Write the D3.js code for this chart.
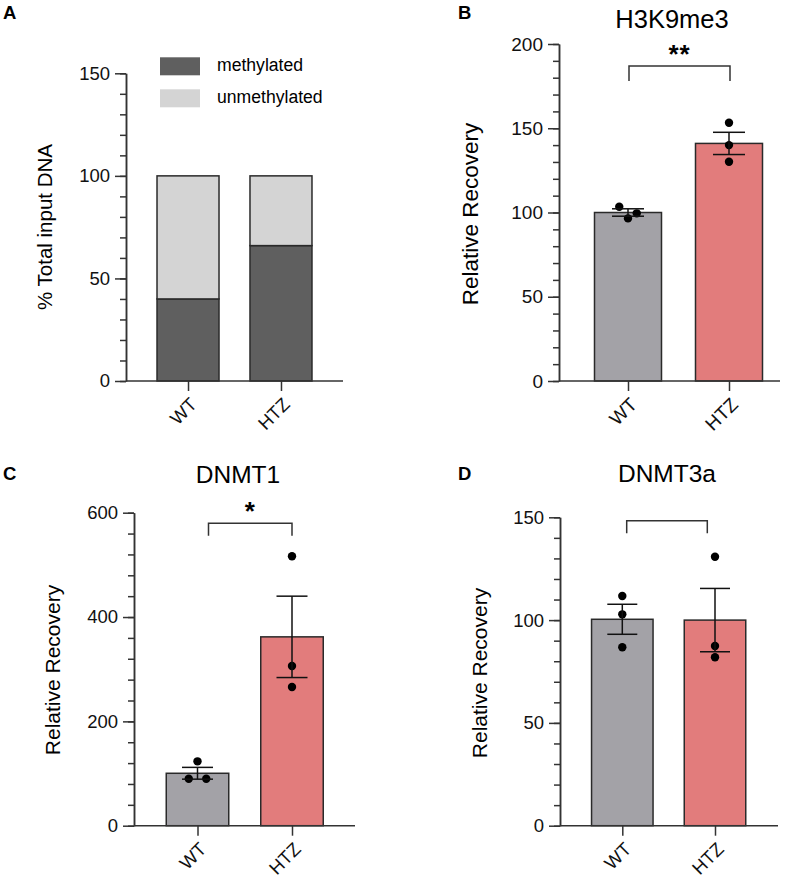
<!DOCTYPE html>
<html>
<head>
<meta charset="utf-8">
<script src="https://cdn.jsdelivr.net/npm/d3@7"></script>
<style>
  body { margin: 0; background: #fff; }
  svg { font-family: "Liberation Sans", Arial, Helvetica, sans-serif; }
  .axis path, .axis line { stroke: #333; stroke-width: 1.5; }
  .axis text { fill: #111; }
</style>
</head>
<body>
<svg id="figure" width="800" height="879"></svg>
<script>
// groups on the x axis of every panel
var groups = ["WT", "HTZ"];

// panel A : % of input DNA (stacked)
var methylated = [40, 66];
var unmethylated = [60, 34];
var stackKeys = ["methylated", "unmethylated"];

// panel B : H3K9me3
var h3k9Mean = [100, 141];
var h3k9Sem = [2.2, 6.6];
var h3k9Points = [[103.4, 96.5, 99.5], [153.3, 140, 130.1]];

// panel C : DNMT1
var dnmt1Mean = [100.5, 362];
var dnmt1Sem = [11.3, 78];
var dnmt1Points = [[123.4, 90.1, 90.0], [516.4, 306, 265.8]];

// panel D : DNMT3a
var dnmt3aMean = [100.4, 100];
var dnmt3aSem = [7.3, 15.4];
var dnmt3aPoints = [[111.7, 102.8, 86.8], [130.8, 87.4, 81.9]];

// significance labels and bracket levels (data units)
var sigLabels = ["**", "*", ""];
var sigLevels = [187, 580, 148.3];
var sigDrops = [178, 556, 142.2];

var groupColors = ["#a3a2a7", "#e27c7c"];
var stackColors = ["#5f5f5f", "#d4d4d4"];

var svg = d3.select("#figure");

/*
 * draws the y axis with major (labelled) and minor ticks
 */
function drawYAxis(g, yScale, x0, majorStep, minorStep, max, fontSize) {
   var minor = d3.range(0, max + 0.001, minorStep);
   var major = d3.range(0, max + 0.001, majorStep);

   g.append("g")
      .attr("class", "axis")
      .attr("transform", "translate(" + x0 + ",0)")
      .call(d3.axisLeft(yScale).tickValues(minor).tickSize(6).tickFormat("").tickSizeOuter(0));

   g.append("g")
      .attr("class", "axis")
      .attr("transform", "translate(" + x0 + ",0)")
      .call(d3.axisLeft(yScale).tickValues(major).tickSize(11).tickPadding(5).tickSizeOuter(0))
      .selectAll("text")
      .attr("font-size", fontSize);
}

/*
 * draws the x axis line plus rotated group labels
 */
function drawXAxis(g, xScale, x0, x1, y0, fontSize) {
   var ax = g.append("g")
      .attr("class", "axis")
      .attr("transform", "translate(0," + y0 + ")")
      .call(d3.axisBottom(xScale).tickSize(10).tickSizeOuter(0));
   ax.select(".domain").remove();
   ax.append("line")
      .attr("x1", x0).attr("x2", x1)
      .attr("y1", 0).attr("y2", 0)
      .attr("stroke", "#333").attr("stroke-width", 1.5);
   ax.selectAll(".tick text")
      .attr("font-size", fontSize)
      .attr("text-anchor", "end")
      .attr("x", 0).attr("y", 0).attr("dy", "0.35em")
      .attr("transform", "translate(5,20) rotate(-45)");
}

/*
 * spread points horizontally when they would overlap
 */
function spreadPoints(values, yScale, r, step) {
   var order = values.map(function(v, i) { return i; })
      .sort(function(a, b) { return values[b] - values[a]; });
   var rows = [];
   order.forEach(function(i) {
      var last = rows[rows.length - 1];
      if (last && Math.abs(yScale(values[last[0]]) - yScale(values[i])) < 2 * r + 1) {
         last.push(i);
      } else {
         rows.push([i]);
      }
   });
   var offsets = [];
   rows.forEach(function(row) {
      row.forEach(function(i, k) {
         offsets[i] = (k - (row.length - 1) / 2) * step;
      });
   });
   return values.map(function(v, i) { return { v: v, dx: offsets[i] }; });
}

function panelLetter(txt, x, y) {
   svg.append("text")
      .attr("x", x).attr("y", y)
      .attr("font-size", 18.5)
      .attr("font-weight", "bold")
      .text(txt);
}

function yTitle(txt, cx, cy, fontSize) {
   svg.append("text")
      .attr("transform", "translate(" + cx + "," + cy + ") rotate(-90)")
      .attr("text-anchor", "middle")
      .attr("dominant-baseline", "central")
      .attr("font-size", fontSize)
      .text(txt);
}

/*
 * mean + SEM bar panel with individual points
 */
function barPanel(cfg) {
   var g = svg.append("g");
   var yScale = d3.scaleLinear().domain([0, cfg.max]).range([cfg.y0, cfg.yTop]);
   var xScale = d3.scalePoint().domain(groups).range(cfg.centers);

   drawYAxis(g, yScale, cfg.x0, cfg.major, cfg.minor, cfg.max, cfg.tickFont);

   // bars
   g.selectAll("rect.bar")
      .data(groups)
      .enter().append("rect")
      .attr("class", "bar")
      .attr("x", function(d) { return xScale(d) - cfg.barW / 2; })
      .attr("y", function(d, i) { return yScale(cfg.mean[i]); })
      .attr("width", cfg.barW)
      .attr("height", function(d, i) { return cfg.y0 - yScale(cfg.mean[i]); })
      .attr("fill", function(d, i) { return groupColors[i]; })
      .attr("stroke", "#2a2a2a")
      .attr("stroke-width", 1.5);

   drawXAxis(g, xScale, cfg.x0, cfg.x1, cfg.y0, cfg.tickFont);

   // points
   groups.forEach(function(grp, i) {
      var pts = spreadPoints(cfg.points[i], yScale, 4.2, 17.5);
      g.selectAll(null)
         .data(pts)
         .enter().append("circle")
         .attr("cx", function(d) { return xScale(grp) + d.dx; })
         .attr("cy", function(d) { return yScale(d.v); })
         .attr("r", 4.2)
         .attr("fill", "#000");
   });

   // error bars (mean +/- SEM)
   groups.forEach(function(grp, i) {
      var cx = xScale(grp);
      var top = yScale(cfg.mean[i] + cfg.sem[i]);
      var bot = yScale(cfg.mean[i] - cfg.sem[i]);
      var eb = g.append("g").attr("stroke", "#111").attr("stroke-width", 1.5);
      eb.append("line").attr("x1", cx).attr("x2", cx).attr("y1", top).attr("y2", bot);
      eb.append("line").attr("x1", cx - cfg.capW).attr("x2", cx + cfg.capW).attr("y1", top).attr("y2", top);
      eb.append("line").attr("x1", cx - cfg.capW).attr("x2", cx + cfg.capW).attr("y1", bot).attr("y2", bot);
   });

   // significance bracket
   var bx1 = xScale(groups[0]) + cfg.bracketInset[0];
   var bx2 = xScale(groups[1]) + cfg.bracketInset[1];
   var by = yScale(cfg.sigLevel);
   var bd = yScale(cfg.sigDrop);
   g.append("path")
      .attr("d", "M" + bx1 + "," + bd + "V" + by + "H" + bx2 + "V" + bd)
      .attr("fill", "none")
      .attr("stroke", "#333")
      .attr("stroke-width", 1.5);
   if (cfg.sig) {
      g.append("text")
         .attr("x", (bx1 + bx2) / 2)
         .attr("y", by - 3)
         .attr("text-anchor", "middle")
         .attr("font-size", 26)
         .attr("font-weight", "bold")
         .attr("letter-spacing", 1)
         .text(cfg.sig);
   }

   // title
   svg.append("text")
      .attr("x", cfg.titleX).attr("y", cfg.titleY)
      .attr("text-anchor", "middle")
      .attr("font-size", cfg.titleFont)
      .text(cfg.title);

   yTitle("Relative Recovery", cfg.labelX, cfg.labelY, cfg.labelFont);
   panelLetter(cfg.letter, cfg.letterX, cfg.letterY);
}

/* ---------- panel A : stacked bars ---------- */
(function() {
   var x0 = 126, x1 = 343, y0 = 381, yTop = 73.3, barW = 62;
   var g = svg.append("g");
   var yScale = d3.scaleLinear().domain([0, 150]).range([y0, yTop]);
   var xScale = d3.scalePoint().domain(groups).range([x0, x1]).padding(0.667);

   drawYAxis(g, yScale, x0, 50, 10, 150, 18.5);

   var table = groups.map(function(grp, i) {
      return { group: grp, methylated: methylated[i], unmethylated: unmethylated[i] };
   });
   var series = d3.stack().keys(stackKeys)(table);

   g.selectAll("g.layer")
      .data(series)
      .enter().append("g")
      .attr("class", "layer")
      .attr("fill", function(d, i) { return stackColors[i]; })
      .selectAll("rect")
      .data(function(d) { return d; })
      .enter().append("rect")
      .attr("x", function(d) { return xScale(d.data.group) - barW / 2; })
      .attr("y", function(d) { return yScale(d[1]); })
      .attr("width", barW)
      .attr("height", function(d) { return yScale(d[0]) - yScale(d[1]); })
      .attr("stroke", "#2a2a2a")
      .attr("stroke-width", 1.5);

   drawXAxis(g, xScale, x0, x1, y0, 18.5);

   // legend
   var leg = g.selectAll("g.leg")
      .data(stackKeys)
      .enter().append("g")
      .attr("class", "leg")
      .attr("transform", function(d, i) { return "translate(160," + (57.3 + i * 32) + ")"; });
   leg.append("rect")
      .attr("width", 40).attr("height", 18)
      .attr("fill", function(d, i) { return stackColors[i]; });
   leg.append("text")
      .attr("x", 57).attr("y", 14)
      .attr("font-size", 17.6)
      .text(function(d) { return d; });

   yTitle("% Total input DNA", 44.7, 227, 20.5);
   panelLetter("A", 3, 19);
})();

/* ---------- panels B, C, D ---------- */
barPanel({
   letter: "B", letterX: 458, letterY: 19,
   title: "H3K9me3", titleX: 672, titleY: 28, titleFont: 25.5,
   x0: 559, x1: 780, y0: 381, yTop: 44, max: 200, major: 50, minor: 10,
   centers: [628, 729], barW: 67, capW: 16,
   mean: h3k9Mean, sem: h3k9Sem, points: h3k9Points,
   sig: sigLabels[0], sigLevel: sigLevels[0], sigDrop: sigDrops[0], bracketInset: [1, 1],
   tickFont: 19, labelX: 470, labelY: 214, labelFont: 22.5
});

barPanel({
   letter: "C", letterX: 3, letterY: 480,
   title: "DNMT1", titleX: 238, titleY: 483, titleFont: 24.5,
   x0: 134, x1: 355, y0: 825.7, yTop: 512.7, max: 600, major: 200, minor: 40,
   centers: [197.5, 292], barW: 62.5, capW: 15.5,
   mean: dnmt1Mean, sem: dnmt1Sem, points: dnmt1Points,
   sig: sigLabels[1], sigLevel: sigLevels[1], sigDrop: sigDrops[1], bracketInset: [11, 0],
   tickFont: 18.5, labelX: 52, labelY: 670, labelFont: 21
});

barPanel({
   letter: "D", letterX: 458, letterY: 480,
   title: "DNMT3a", titleX: 667, titleY: 482.3, titleFont: 24.5,
   x0: 560, x1: 778, y0: 825.7, yTop: 517.3, max: 150, major: 50, minor: 10,
   centers: [622.3, 715], barW: 61.5, capW: 15,
   mean: dnmt3aMean, sem: dnmt3aSem, points: dnmt3aPoints,
   sig: sigLabels[2], sigLevel: sigLevels[2], sigDrop: sigDrops[2], bracketInset: [4.4, -7.7],
   tickFont: 18.5, labelX: 479, labelY: 673, labelFont: 21
});
</script>
</body>
</html>
